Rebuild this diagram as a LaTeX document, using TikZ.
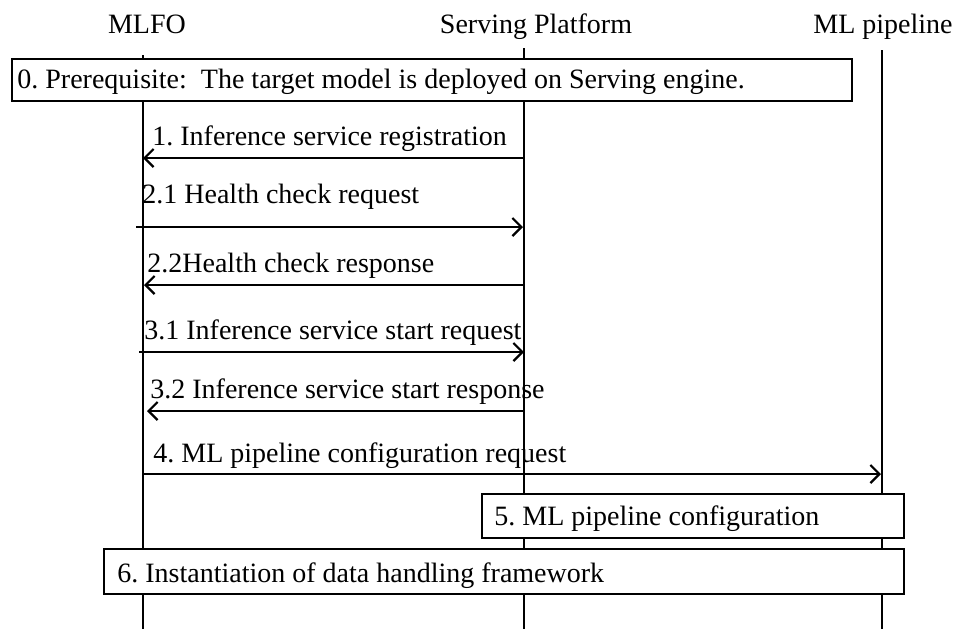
\documentclass[tikz,border=0pt]{standalone}
\usepackage{fontspec}
\setmainfont{Liberation Serif}
\usetikzlibrary{arrows.meta}
\frenchspacing
\begin{document}
\begin{tikzpicture}[x=0.5pt,y=-0.5pt,
  txt/.style={inner sep=0pt,anchor=base west,font=\fontsize{14pt}{16pt}\selectfont},
  head/.style={inner sep=0pt,anchor=base,font=\fontsize{14pt}{16pt}\selectfont},
  life/.style={line width=1.1pt},
  msg/.style={line width=1.1pt,-{Straight Barb[length=4.5pt,width=9pt,line width=1.1pt]}},
  actbox/.style={draw,line width=1.1pt,fill=white}]
\useasboundingbox (0,0) rectangle (957,629);
% headers
\node[head] (hm) at (147,33) {MLFO};
\node[head] (hs) at (536,33) {Serving Platform};
\node[head] (hp) at (883,33) {ML pipeline};
% lifelines
\coordinate (mt) at (143,55); \coordinate (mb) at (143,629);
\coordinate (st) at (524,48); \coordinate (sb) at (524,629);
\coordinate (pt) at (882,50); \coordinate (pb) at (882,629);
\draw[life] (mt) -- (mb);
\draw[life] (st) -- (sb);
\draw[life] (pt) -- (pb);
% box 0
\draw[actbox] (12,59) rectangle (852,101);
\node[txt] (b0) at (17,88) {0. Prerequisite:\ \ The target model is deployed on Serving engine.};
% message 1
\coordinate (s1) at (524,158); \coordinate (m1) at (143,158);
\draw[msg] (s1) -- (m1);
\node[txt] (l1) at (152,145) {1. Inference service registration};
% message 2.1
\coordinate (m21) at (136,227); \coordinate (s21) at (523,227);
\draw[msg] (m21) -- (s21);
\node[txt] (l21) at (142,203) {2.1 Health check request};
% message 2.2
\coordinate (s22) at (524,285); \coordinate (m22) at (144,285);
\draw[msg] (s22) -- (m22);
\node[txt] (l22) at (147,272) {2.2Health check response};
% message 3.1
\coordinate (m31) at (139,352); \coordinate (s31) at (524,352);
\draw[msg] (m31) -- (s31);
\node[txt] (l31) at (144,339) {3.1 Inference service start request};
% message 3.2
\coordinate (s32) at (524,411); \coordinate (m32) at (147,411);
\draw[msg] (s32) -- (m32);
\node[txt] (l32) at (150,398) {3.2 Inference service start response};
% message 4
\coordinate (m4) at (143,474); \coordinate (p4) at (881,474);
\draw[msg] (m4) -- (p4);
\node[txt] (l4) at (153,462) {4. ML pipeline configuration request};
% box 5
\draw[actbox] (482,494) rectangle (904,538);
\node[txt] (b5) at (494,525) {5. ML pipeline configuration};
% box 6
\draw[actbox] (104,549) rectangle (904,594);
\node[txt] (b6) at (117,582) {6. Instantiation of data handling framework};
\end{tikzpicture}
\end{document}
